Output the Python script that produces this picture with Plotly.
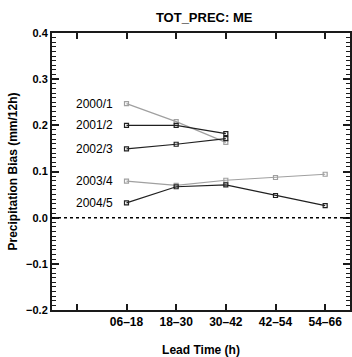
import plotly.graph_objects as go

categories = ["06–18", "18–30", "30–42", "42–54", "54–66"]
series_names = ["2000/1", "2001/2", "2002/3", "2003/4", "2004/5"]
v2000 = [0.247, 0.208, 0.163]
v2001 = [0.200, 0.200, 0.182]
v2002 = [0.149, 0.159, 0.171]
v2003 = [0.079, 0.070, 0.081, 0.087, 0.094]
v2004 = [0.032, 0.067, 0.071, 0.048, 0.026]
series_values = [v2000, v2001, v2002, v2003, v2004]
series_colors = ["#a0a0a0", "#202020", "#202020", "#a0a0a0", "#202020"]

FONT = "Liberation Sans"
AX = "#1a1a1a"
fig = go.Figure()

all_cats = [" "] + categories
for name, vals, col in zip(series_names, series_values, series_colors):
    fig.add_trace(go.Scatter(
        x=categories[:len(vals)], y=vals, mode="lines+markers",
        line=dict(color=col, width=1.2),
        marker=dict(symbol="square-open", size=4, color=col, line=dict(width=1.2, color=col)),
        showlegend=False, name=name,
    ))
    fig.add_annotation(x=categories[0], y=vals[0], text=name, xanchor="right", yanchor="middle",
                       xshift=-12, showarrow=False,
                       font=dict(family=FONT, size=12, color="#000"))

fig.add_shape(type="line", xref="paper", x0=0, x1=1, y0=0, y1=0,
              line=dict(color="#000", width=1.5, dash="dot"))

fig.update_layout(
    template="none",
    width=352, height=357,
    margin=dict(l=52, r=2, t=33, b=47),
    title=dict(text="<b>TOT_PREC: ME</b>", x=0.58, xanchor="center", y=0.952, yanchor="middle",
               font=dict(family=FONT, size=13, color="#000")),
    font=dict(family=FONT, color="#000"),
    xaxis=dict(
        type="category", categoryorder="array", categoryarray=all_cats, range=[-0.5, 5.5],
        showgrid=False, zeroline=False, showline=True, linecolor=AX, linewidth=2,
        mirror="allticks", ticks="inside", ticklen=6, tickcolor=AX, tickwidth=1.5,
        tickfont=dict(family=FONT, size=12, color="#000", weight="bold"),
        title=dict(text="<b>Lead Time (h)</b>", font=dict(family=FONT, size=12, color="#000")),
    ),
    yaxis=dict(
        range=[-0.2, 0.4], tick0=0, dtick=0.1, tickformat=".1f",
        showgrid=False, zeroline=False, showline=True, linecolor=AX, linewidth=2,
        mirror="allticks", ticks="inside", ticklen=7, tickcolor=AX, tickwidth=1.5,
        minor=dict(dtick=0.01, ticks="inside", ticklen=4, tickcolor=AX, tickwidth=1),
        tickfont=dict(family=FONT, size=11, color="#000", weight="bold"),
        title=dict(text="<b>Precipitation Bias (mm/12h)</b>", font=dict(family=FONT, size=12, color="#000")),
    ),
)

fig.write_html("out.html")
